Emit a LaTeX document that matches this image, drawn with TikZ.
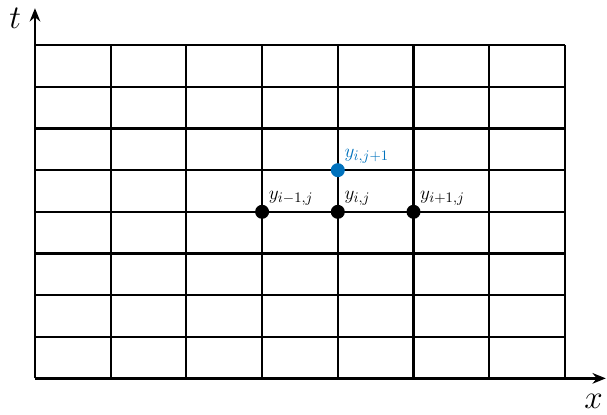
\documentclass[tikz,border=0pt]{standalone}
\usepackage{tikz}
\usetikzlibrary{arrows.meta}
\definecolor{PtBlue}{RGB}{0,114,189}
\tikzset{
	gridline/.style={draw=black,line width=1.6pt},
	axis/.style={draw=black,line width=2pt,-{Stealth[length=10pt,width=8pt]}},
	pt/.style={circle,fill=black,inner sep=0pt,minimum size=0.37cm},
	ptlab/.style={anchor=south west,inner sep=1pt,font=\fontsize{15}{17}\selectfont},
	axlab/.style={font=\fontsize{36}{38}\selectfont,inner sep=0pt},
}
\begin{document}
\begin{tikzpicture}[x=2cm,y=1.1cm]
	\useasboundingbox (-0.462,-0.865) rectangle (7.556,9.087);
	% grid
	\foreach \r in {1,...,8}
	\draw[gridline] (0,\r)--(7,\r);
	\foreach \c in {1,...,7}
	\draw[gridline] (\c,0)--(\c,8);
	% axes
	\coordinate (o) at (0,0);
	\coordinate (xend) at (7.54,0);
	\coordinate (tend) at (0,8.89);
	\draw[axis] (o)--(xend);
	\draw[axis] (o)--(tend);
	\node[axlab,anchor=base] (xl) at (7.38,-0.72) {$x$};
	\node[axlab,anchor=base] (tl) at (-0.26,8.4) {$t$};
	% stencil points
	\node[pt,label={[ptlab]45:$y_{i-1,j}$}] (left) at (3,4) {};
	\node[pt,label={[ptlab]45:$y_{i,j}$}] (mid) at (4,4) {};
	\node[pt,label={[ptlab]45:$y_{i+1,j}$}] (right) at (5,4) {};
	\node[pt,fill=PtBlue,label={[ptlab,text=PtBlue]45:$y_{i,j+1}$}] (up) at (4,5) {};
\end{tikzpicture}
\end{document}
